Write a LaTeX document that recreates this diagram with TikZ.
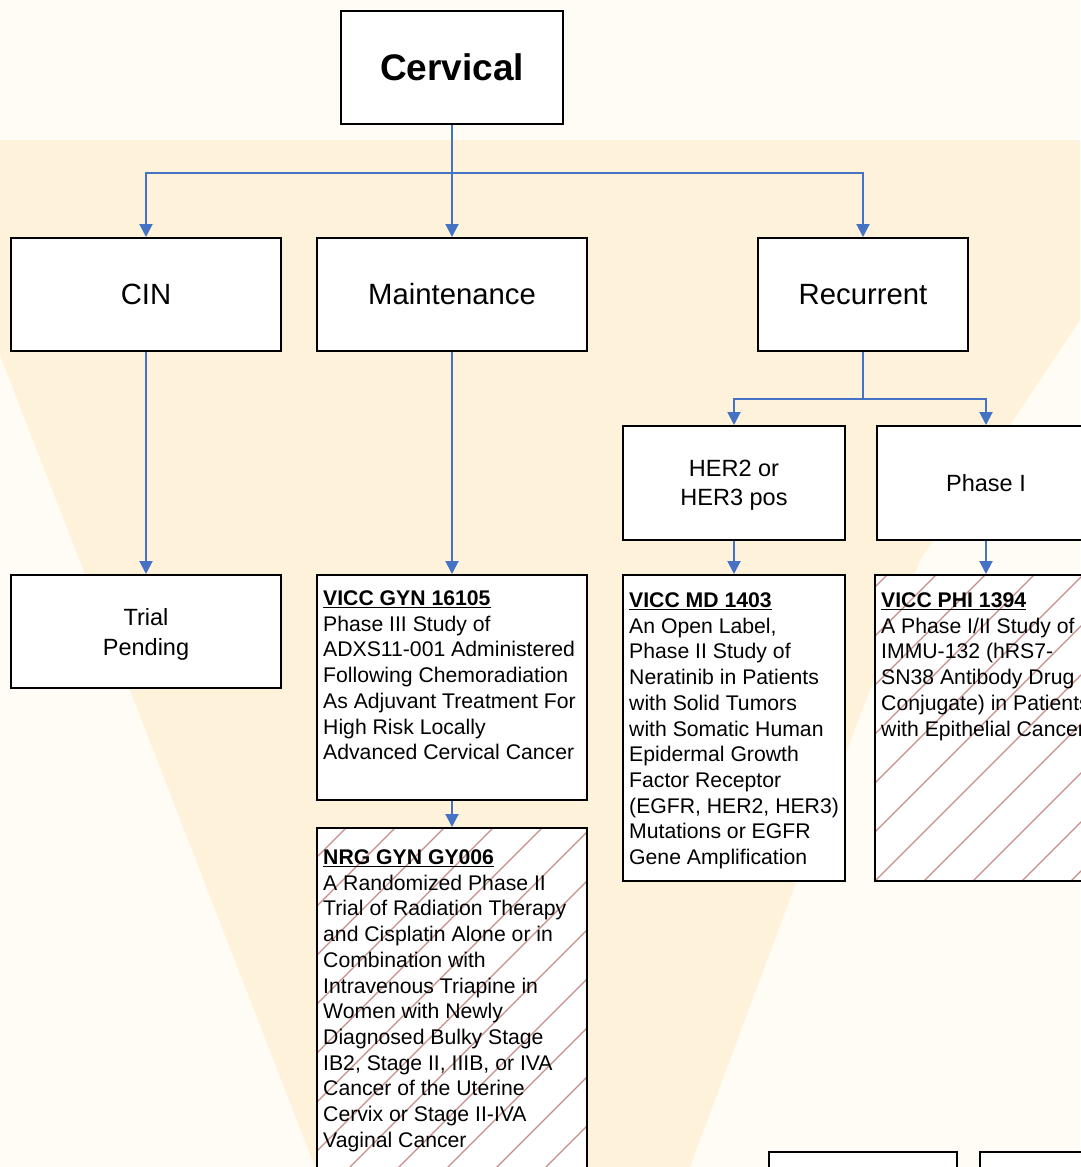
\documentclass[tikz,border=0pt]{standalone}
\usepackage{fontspec}
\setmainfont{Liberation Sans}
\usetikzlibrary{arrows.meta}
\definecolor{arrowblue}{HTML}{4472C4}
\definecolor{cream}{HTML}{FFFCF5}
\definecolor{tint}{HTML}{FEF2DB}
\definecolor{hatchc}{RGB}{200,140,135}
\tikzset{
  box/.style={draw=black, line width=2pt, fill=white, inner sep=0pt, align=center},
  bigtxt/.style={font=\fontsize{29.3}{34}\selectfont},
  midtxt/.style={font=\fontsize{23.5}{29.5}\selectfont},
  smalltxt/.style={anchor=north west, align=left, inner sep=0pt, font=\fontsize{21.2}{25.7}\selectfont},
  conn/.style={draw=arrowblue, line width=2pt, -{Triangle[length=13pt,width=13pt]}},
  busline/.style={draw=arrowblue, line width=2pt},
  hatched/.style={path picture={\foreach \k in {-12,...,12}{\draw[hatchc, line width=1.3pt] ([xshift=\k*49pt]path picture bounding box.south west) -- ++(700,-700);}}}
}
\begin{document}
\begin{tikzpicture}[x=1pt,y=-1pt]
\useasboundingbox (0,0) rectangle (1080,1167);
% background watermark
\fill[cream] (0,0) rectangle (1080,1167);
\fill[tint] (0,140) -- (1080,140) -- (1080,320) -- (920,560) -- (797,880) -- (690,1167) -- (315,1167) -- (0,355) -- cycle;

% top level
\node[box, minimum width=222pt, minimum height=113pt, font=\fontsize{37}{40}\selectfont\bfseries] (cerv) at (452,67.5) {Cervical};
\node[box, bigtxt, minimum width=270pt, minimum height=113pt] (cin) at (146,294.5) {CIN};
\node[box, bigtxt, minimum width=270pt, minimum height=113pt] (maint) at (452,294.5) {Maintenance};
\node[box, bigtxt, minimum width=210pt, minimum height=113pt] (recur) at (863,294.5) {Recurrent};

% second level
\node[box, minimum width=222pt, minimum height=114pt] (her) at (734,483) {};
\node[midtxt, align=center, inner sep=0pt] (hertxt) at (734,485) {HER2 or\\HER3 pos};
\node[box, midtxt, minimum width=218pt, minimum height=114pt] (ph1) at (986,483) {Phase I};
\node[box, minimum width=270pt, minimum height=113pt] (trial) at (146,631.5) {};
\node[midtxt, align=center, inner sep=0pt] (trialtxt) at (146,634.5) {Trial\\Pending};

% trial boxes
\node[box, minimum width=270pt, minimum height=225pt] (gyn) at (452,687.5) {};
\node[box, hatched, minimum width=270pt, minimum height=372pt] (nrg) at (452,1014) {};
\node[box, minimum width=222pt, minimum height=306pt] (md) at (734,728) {};
\node[box, hatched, minimum width=222pt, minimum height=306pt] (phi) at (986,728) {};
\node[box, minimum width=188pt, minimum height=100pt] (b1) at (863,1202) {};
\node[box, minimum width=188pt, minimum height=100pt] (b2) at (1074,1202) {};

% texts
\node[smalltxt] (gyntxt) at (323,590.5) {\underline{\textbf{VICC GYN 16105}}\\Phase III Study of\\ADXS11-001 Administered\\Following Chemoradiation\\As Adjuvant Treatment For\\High Risk Locally\\Advanced Cervical Cancer};
\node[smalltxt] (nrgtxt) at (323,849.5) {\underline{\textbf{NRG GYN GY006}}\\A Randomized Phase II\\Trial of Radiation Therapy\\and Cisplatin Alone or in\\Combination with\\Intravenous Triapine in\\Women with Newly\\Diagnosed Bulky Stage\\IB2, Stage II, IIIB, or IVA\\Cancer of the Uterine\\Cervix or Stage II-IVA\\Vaginal Cancer};
\node[smalltxt] (mdtxt) at (629,592.5) {\underline{\textbf{VICC MD 1403}}\\An Open Label,\\Phase II Study of\\Neratinib in Patients\\with Solid Tumors\\with Somatic Human\\Epidermal Growth\\Factor Receptor\\(EGFR, HER2, HER3)\\Mutations or EGFR\\Gene Amplification};
\node[smalltxt] (phitxt) at (881,592.5) {\underline{\textbf{VICC PHI 1394}}\\A Phase I/II Study of\\IMMU-132 (hRS7-\\SN38 Antibody Drug\\Conjugate) in Patients\\with Epithelial Cancers};

% connectors
\coordinate (bus1) at (452,173);
\coordinate (bus2) at (863,399);
\draw[conn] (cerv.south) -- (maint.north);
\draw[conn] (bus1) -| (cin.north);
\draw[conn] (bus1) -| (recur.north);
\draw[busline] (recur.south) -- (bus2);
\draw[conn] (bus2) -| (her.north);
\draw[conn] (bus2) -| (ph1.north);
\draw[conn] (cin.south) -- (trial.north);
\draw[conn] (maint.south) -- (gyn.north);
\draw[conn] (gyn.south) -- (nrg.north);
\draw[conn] (her.south) -- (md.north);
\draw[conn] (ph1.south) -- (phi.north);
\end{tikzpicture}
\end{document}
